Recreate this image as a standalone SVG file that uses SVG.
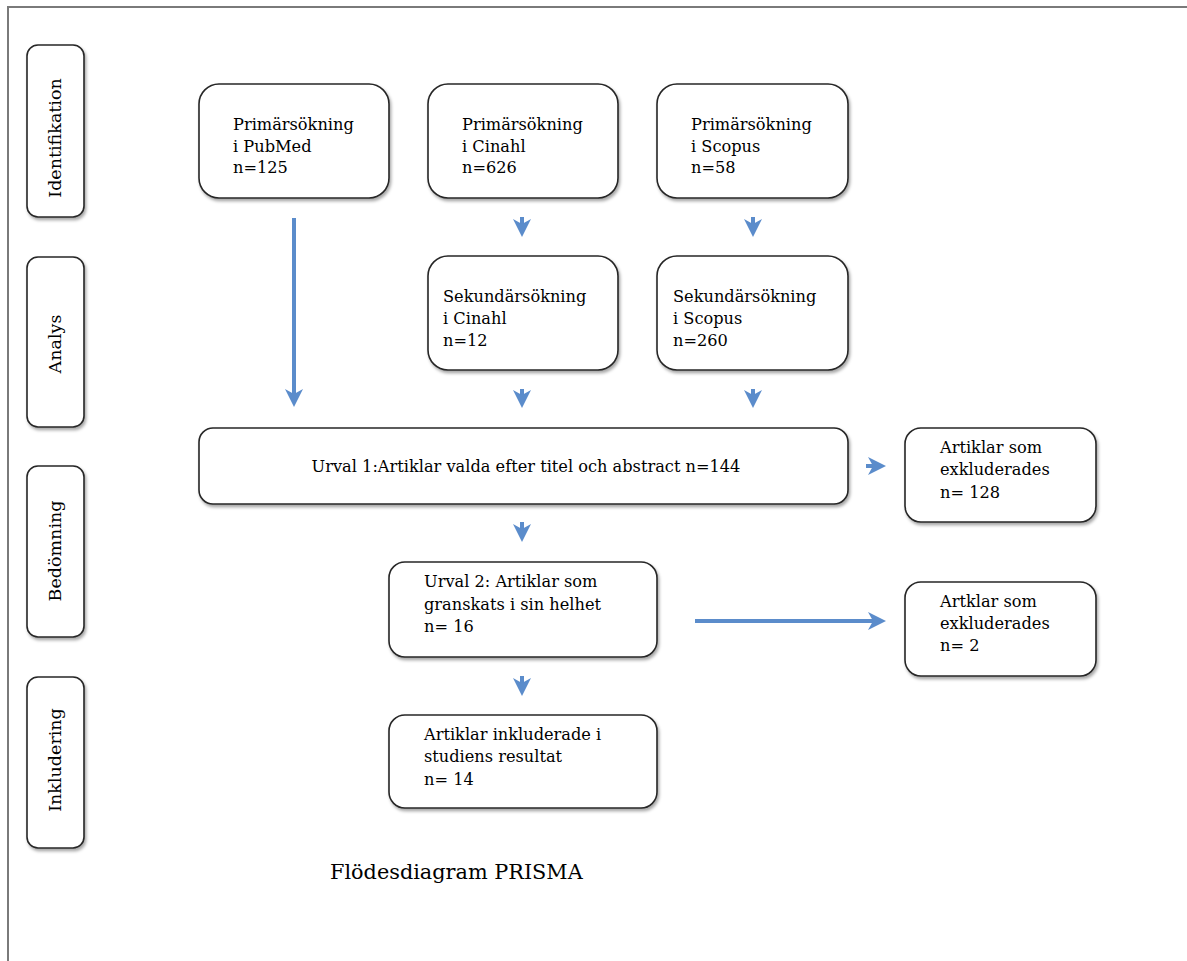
<svg xmlns="http://www.w3.org/2000/svg" width="1187" height="961" viewBox="0 0 1187 961">
<defs>
<filter id="sh" x="-10%" y="-10%" width="130%" height="140%">
<feDropShadow dx="1.5" dy="2.5" stdDeviation="1.8" flood-color="#000" flood-opacity="0.35"/>
</filter>
<marker id="ah" markerUnits="userSpaceOnUse" markerWidth="20" markerHeight="20" refX="10" refY="9" orient="auto" viewBox="0 0 20 18">
<path d="M0,0 L18,9 L0,18 L5,9 Z" fill="#5b8ccb"/>
</marker>
<style>
.box{fill:#fff;stroke:#262626;stroke-width:1.6;filter:url(#sh)}
.t{font-family:"DejaVu Serif","Liberation Serif",serif;font-size:16.2px;fill:#000}
.s{font-family:"DejaVu Serif","Liberation Serif",serif;font-size:17.5px;fill:#000}
.ar{stroke:#5b8ccb;stroke-width:4;fill:none;marker-end:url(#ah)}
</style>
</defs>
<rect width="1187" height="961" fill="#fff"/>
<rect x="8" y="7" width="1250" height="1000" fill="none" stroke="#7a7a7a" stroke-width="2"/>

<g id="phase-identifikation"><rect class="box" x="27" y="45" width="57" height="172" rx="11"/><text class="s" transform="translate(61,138) rotate(-90)" text-anchor="middle">Identifikation</text></g>
<g id="phase-analys"><rect class="box" x="27" y="257" width="57" height="170" rx="11"/><text class="s" transform="translate(61,344) rotate(-90)" text-anchor="middle">Analys</text></g>
<g id="phase-bedomning"><rect class="box" x="27" y="466" width="57" height="171" rx="11"/><text class="s" transform="translate(61,551) rotate(-90)" text-anchor="middle">Bedömning</text></g>
<g id="phase-inkludering"><rect class="box" x="27" y="677" width="57" height="171" rx="11"/><text class="s" transform="translate(61,760) rotate(-90)" text-anchor="middle">Inkludering</text></g>

<g id="pubmed"><rect class="box" x="199" y="84" width="190" height="114" rx="20"/><text class="t" x="233" y="130">Primärsökning</text><text class="t" x="233" y="152">i PubMed</text><text class="t" x="233" y="173">n=125</text></g>
<g id="cinahl1"><rect class="box" x="428" y="84" width="190" height="114" rx="20"/><text class="t" x="462" y="130">Primärsökning</text><text class="t" x="462" y="152">i Cinahl</text><text class="t" x="462" y="173">n=626</text></g>
<g id="scopus1"><rect class="box" x="657" y="84" width="191" height="114" rx="20"/><text class="t" x="691" y="130">Primärsökning</text><text class="t" x="691" y="152">i Scopus</text><text class="t" x="691" y="173">n=58</text></g>
<g id="cinahl2"><rect class="box" x="428" y="256" width="190" height="114" rx="20"/><text class="t" x="443" y="302">Sekundärsökning</text><text class="t" x="443" y="324">i Cinahl</text><text class="t" x="443" y="346">n=12</text></g>
<g id="scopus2"><rect class="box" x="657" y="256" width="191" height="114" rx="20"/><text class="t" x="673" y="302">Sekundärsökning</text><text class="t" x="673" y="324">i Scopus</text><text class="t" x="673" y="346">n=260</text></g>
<g id="urval1"><rect class="box" x="199" y="428" width="649" height="76" rx="14"/><text class="t" x="526" y="472" text-anchor="middle">Urval 1:Artiklar valda efter titel och abstract n=144</text></g>
<g id="excl1"><rect class="box" x="905" y="428" width="191" height="94" rx="16"/><text class="t" x="940" y="453">Artiklar som</text><text class="t" x="940" y="475">exkluderades</text><text class="t" x="940" y="498">n= 128</text></g>
<g id="urval2"><rect class="box" x="389" y="562" width="268" height="95" rx="16"/><text class="t" x="424" y="587">Urval 2: Artiklar som</text><text class="t" x="424" y="610">granskats i sin helhet</text><text class="t" x="424" y="632">n= 16</text></g>
<g id="excl2"><rect class="box" x="905" y="582" width="191" height="94" rx="16"/><text class="t" x="940" y="607">Artklar som</text><text class="t" x="940" y="629">exkluderades</text><text class="t" x="940" y="651">n= 2</text></g>
<g id="included"><rect class="box" x="389" y="715" width="268" height="93" rx="16"/><text class="t" x="424" y="740">Artiklar inkluderade i</text><text class="t" x="424" y="762">studiens resultat</text><text class="t" x="424" y="785">n= 14</text></g>

<g id="connectors">
<line class="ar" x1="294" y1="218" x2="294" y2="399"/>
<line class="ar" x1="522" y1="217" x2="522" y2="229"/>
<line class="ar" x1="753" y1="217" x2="753" y2="229"/>
<line class="ar" x1="522" y1="389" x2="522" y2="400"/>
<line class="ar" x1="753" y1="389" x2="753" y2="400"/>
<line class="ar" x1="522" y1="522" x2="522" y2="534"/>
<line class="ar" x1="522" y1="676" x2="522" y2="688"/>
<line class="ar" x1="866" y1="466" x2="878" y2="466"/>
<line class="ar" x1="695" y1="621" x2="878" y2="621"/>
</g>

<text id="title" x="330" y="879" style="font-family:'DejaVu Serif','Liberation Serif',serif;font-size:20.8px;fill:#000">Flödesdiagram PRISMA</text>
</svg>
